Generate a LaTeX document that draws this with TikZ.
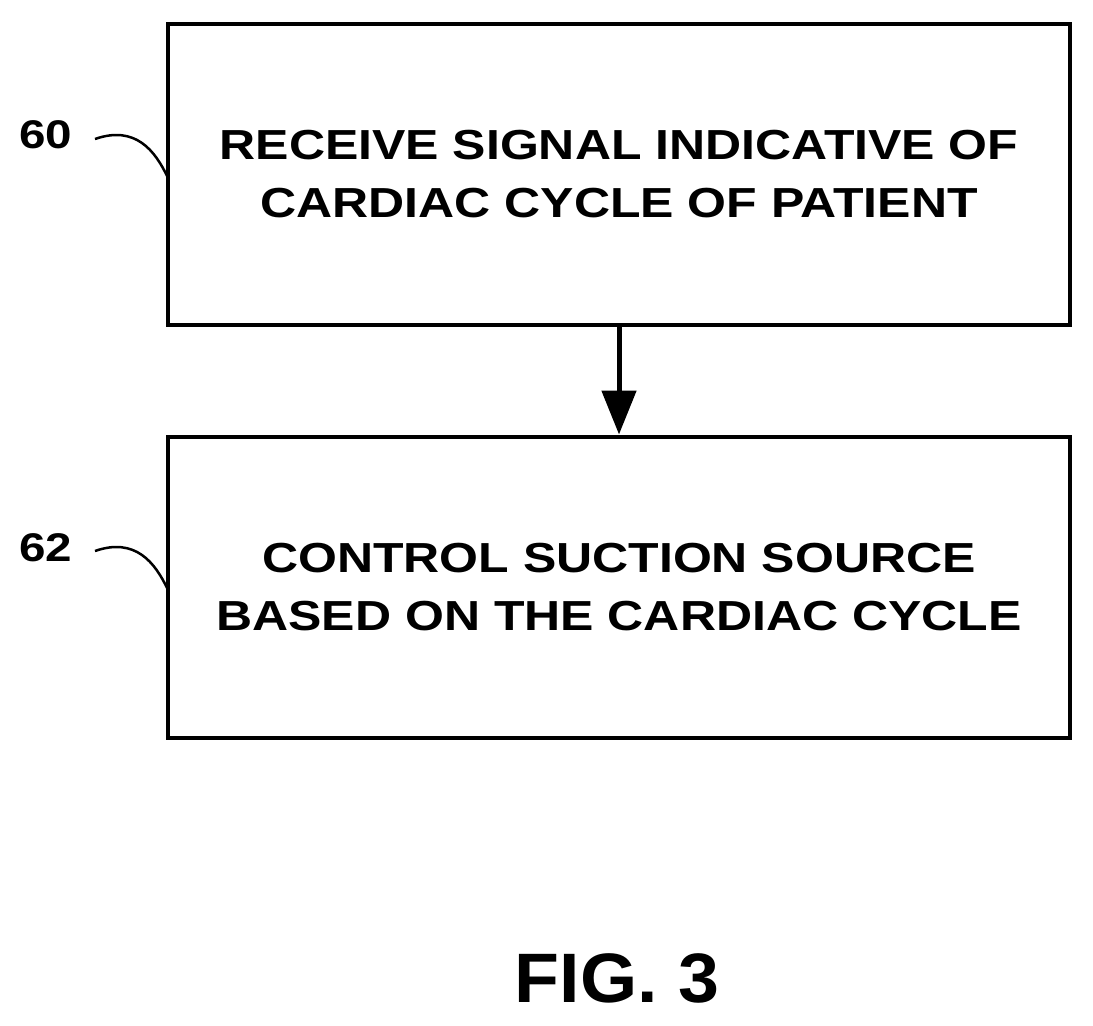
\documentclass[tikz,border=0pt]{standalone}
\usepackage{fontspec}
\setmainfont{Liberation Sans}
\newfontfamily\widefont[FakeStretch=1.19]{Liberation Sans}
\newfontfamily\figfont[FakeStretch=1.05]{Liberation Sans}
\usetikzlibrary{arrows.meta}
\begin{document}
\begin{tikzpicture}[x=1pt,y=-1pt,
  box/.style={draw,line width=4pt,minimum width=902pt,minimum height=301pt,align=center,font=\widefont\fontsize{42}{58}\selectfont\bfseries},
  ref/.style={font=\widefont\fontsize{40}{48}\selectfont\bfseries},
  lead/.style={line width=2.5pt}]
\useasboundingbox (0,0) rectangle (1093,1026);
\node[box] (b1) at (619,174.5) {RECEIVE SIGNAL INDICATIVE OF\\CARDIAC CYCLE OF PATIENT};
\node[box] (b2) at (619,587) {CONTROL SUCTION SOURCE\\BASED ON THE CARDIAC CYCLE};
\draw[line width=5pt,-{Triangle[length=44pt,width=34pt]}] (b1.south) -- (b2.north);
\node[ref] (l60) at (46,135) {60};
\node[ref] (l62) at (46,548) {62};
\coordinate (c60) at (168,178);
\coordinate (c62) at (168,590);
\draw[lead] (95,139) .. controls (135,125) and (155,150) .. (c60);
\draw[lead] (95,551) .. controls (135,537) and (155,562) .. (c62);
\node[font=\figfont\fontsize{70}{80}\selectfont\bfseries] (fig) at (617,978) {FIG. 3};
\end{tikzpicture}
\end{document}
